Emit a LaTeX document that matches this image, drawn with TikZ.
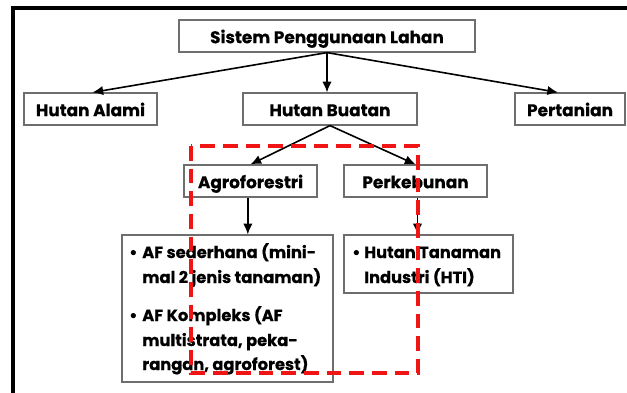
\documentclass[tikz,border=0pt]{standalone}
\usepackage{fontspec}
\setmainfont{Poppins}[BoldFeatures={FakeBold=0.5}]
\usetikzlibrary{fit,calc,arrows.meta}
\definecolor{boxgray}{RGB}{110,110,110}
\definecolor{dashred}{RGB}{240,20,20}
\begin{document}
\begin{tikzpicture}[x=0.75pt,y=-0.75pt,
  box/.style={draw=boxgray, line width=0.9pt, inner sep=0pt},
  title/.style={inner sep=0pt, anchor=base, font=\bfseries\fontsize{12.7}{14}\selectfont},
  arr/.style={-{Latex[length=8pt,width=7pt]}, line width=1.2pt, black},
  txt/.style={anchor=base west, inner sep=0pt, font=\bfseries\fontsize{12.2}{14}\selectfont},
  reddash/.style={draw=dashred, line width=2.8pt, dash pattern=on 11pt off 6pt}]
\path[use as bounding box, clip] (0,0) rectangle (627,392);
\draw[line width=2.4pt] (13,8) rectangle (700,500);
% boxes
\node[box, fit={(179,20) (475,52)}] (sys) {};
\node[box, fit={(24,93) (157,125)}] (ha) {};
\node[box, fit={(243,93) (417,125)}] (hb) {};
\node[box, fit={(515,93) (625,125)}] (pt) {};
\node[box, fit={(184,165) (317,197)}] (agro) {};
\node[box, fit={(344,165) (487,197)}] (perk) {};
\node[box, fit={(122,235) (333,382)}] (af) {};
\node[box, fit={(344,235) (513,293)}] (hti) {};
% titles
\node[title] (tsys) at ([yshift=-5.4pt]sys.center) {Sistem Penggunaan Lahan};
\node[title] (tha) at ([yshift=-5.4pt]ha.center) {Hutan Alami};
\node[title] (thb) at ([yshift=-5.4pt]hb.center) {Hutan Buatan};
\node[title] (tpt) at ([yshift=-5.4pt]pt.center) {Pertanian};
\node[title] (tagro) at ([yshift=-5.4pt]agro.center) {Agroforestri};
\node[title] (tperk) at ([yshift=-5.4pt]perk.center) {Perkebunan};
% list texts
\node[txt] (b1) at (129,258) {•};
\node[txt] (l1) at (142,258) {AF sederhana (mini-};
\node[txt] (l2) at (142,283) {mal 2 jenis tanaman)};
\node[txt] (b2) at (129,321) {•};
\node[txt] (l3) at (142,321) {AF Kompleks (AF};
\node[txt] (l4) at (142,346) {multistrata, peka-};
\node[txt] (l5) at (142,370) {rangan, agroforest)};
\node[txt] (b3) at (352,258) {•};
\node[txt] (h1) at (364,258) {Hutan Tanaman};
\node[txt] (h2) at (364,283) {Industri (HTI)};
% arrows
\draw[arr] (sys.south) -- ([xshift=1.5pt]ha.north);
\draw[arr] (sys.south) -- (sys.south |- hb.north);
\draw[arr] (sys.south) -- ([xshift=-9pt]pt.north);
\draw[arr] (hb.south) -- (agro.north);
\draw[arr] (hb.south) -- (perk.north);
\draw[arr] ([xshift=-2pt]agro.south) -- ([xshift=-2pt]agro.south |- af.north);
\draw[arr] ([xshift=1.5pt]perk.south) -- ([xshift=1.5pt]perk.south |- hti.north);
% red dashed highlight
\coordinate (rtl) at (191,146);
\coordinate (rbr) at (418,373);
\draw[reddash] (rtl) rectangle (rbr);
\end{tikzpicture}
\end{document}
